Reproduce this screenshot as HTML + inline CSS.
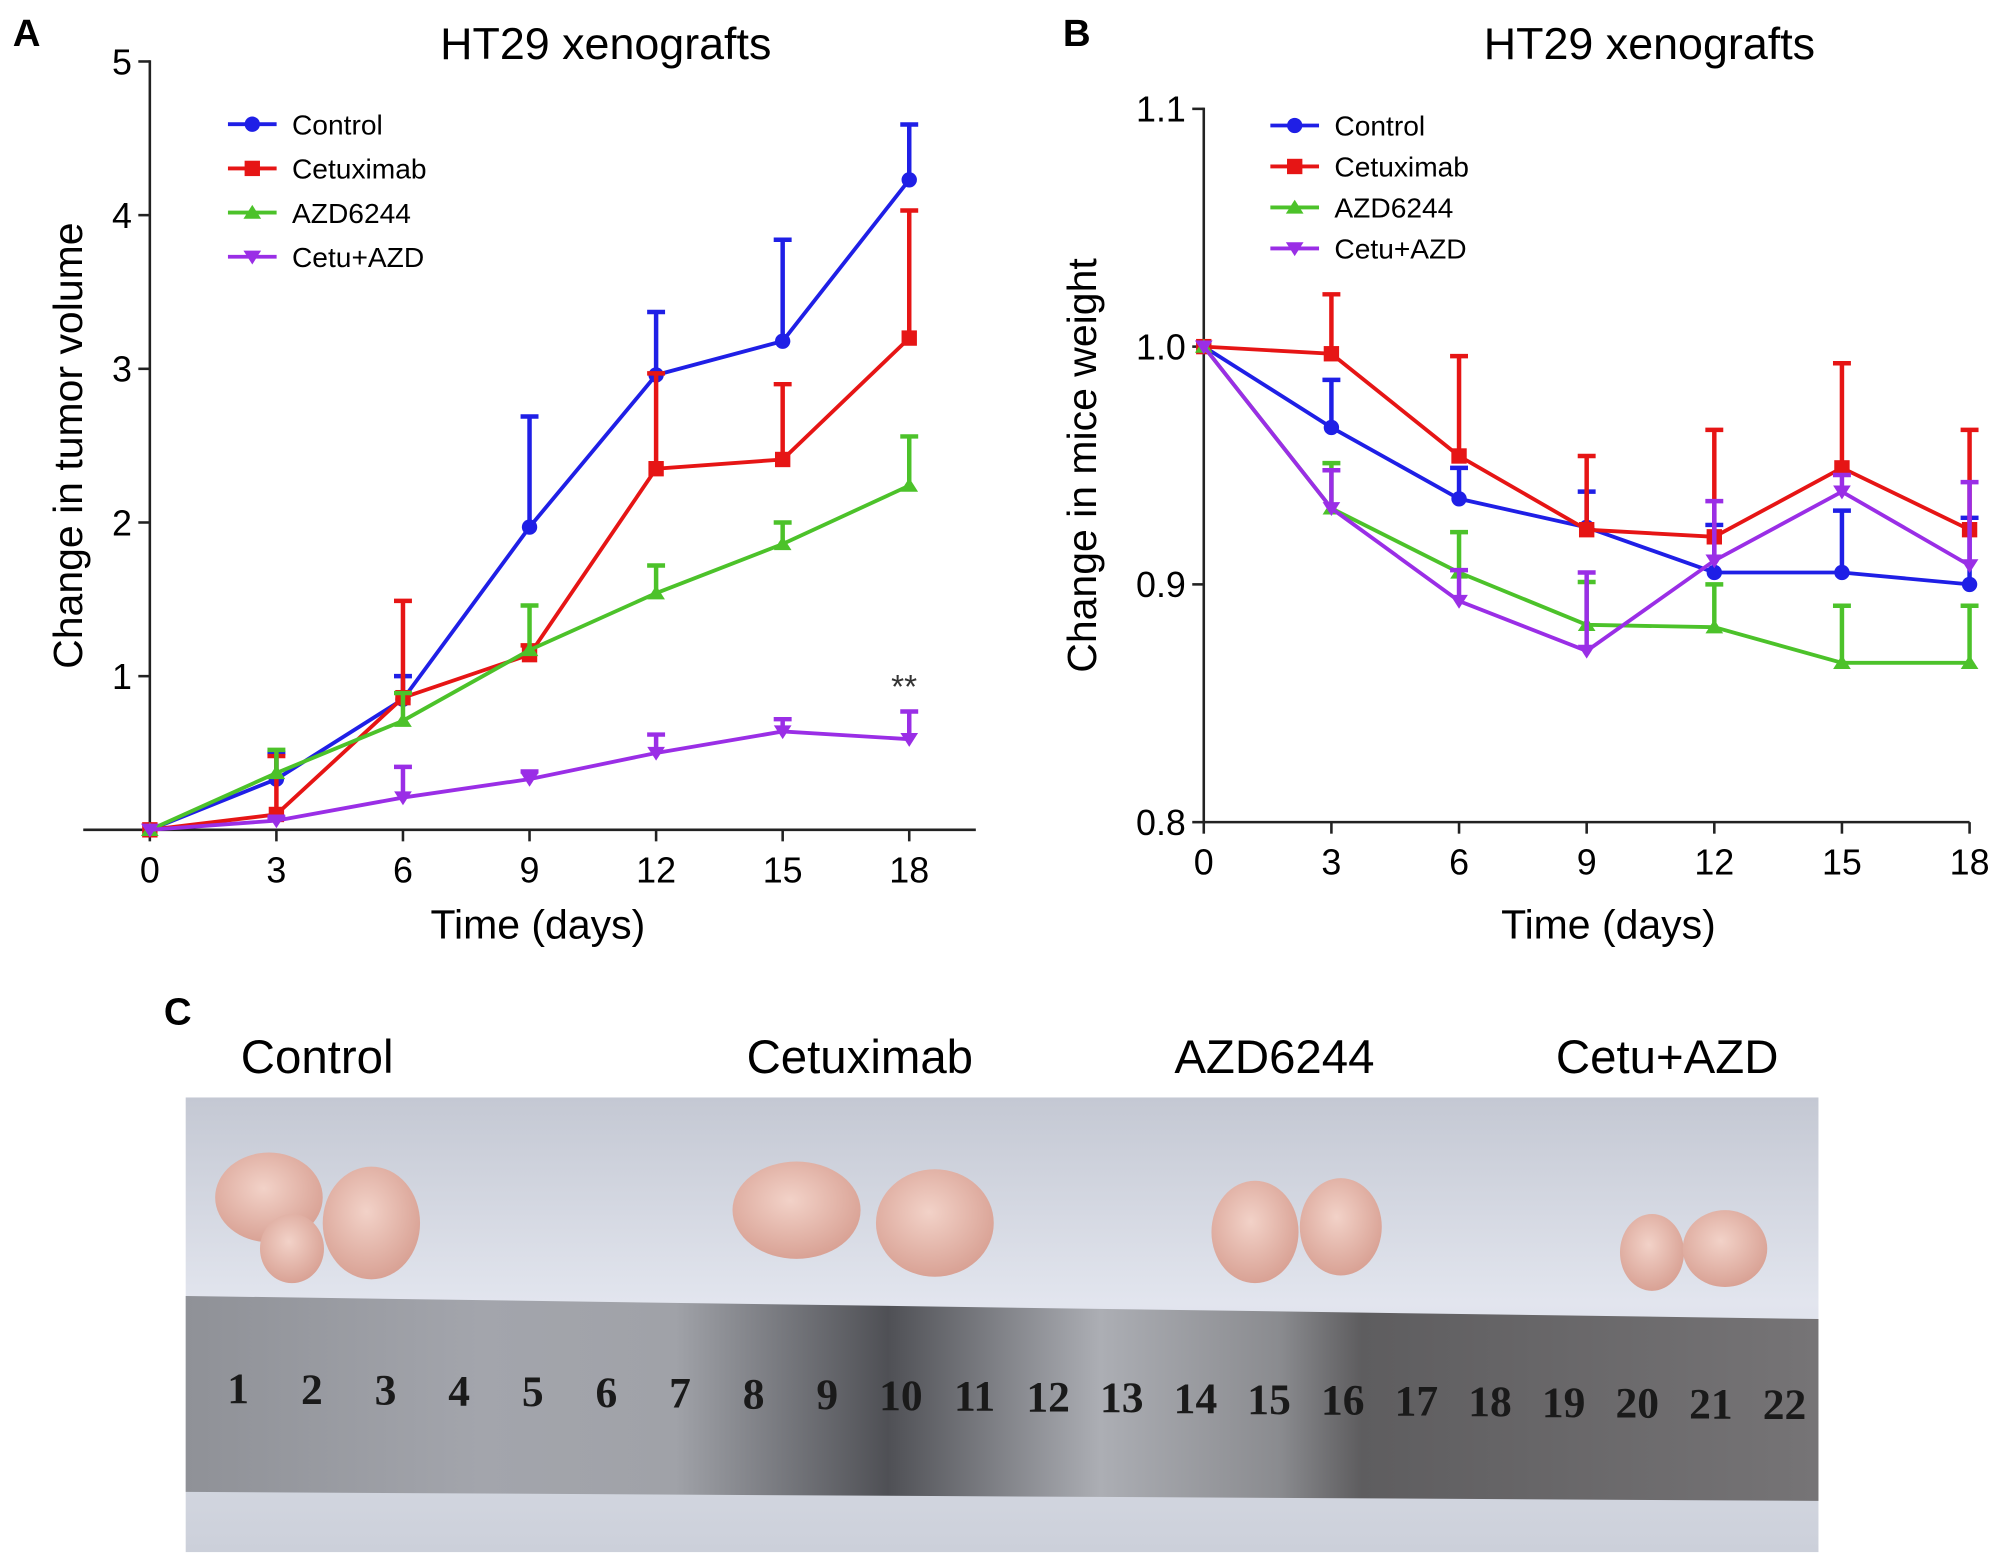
<!DOCTYPE html>
<html><head><meta charset="utf-8"><style>
html,body{margin:0;padding:0;background:#fff;}
svg{display:block;font-family:"Liberation Sans",sans-serif;}
</style></head><body>
<svg id="fig" width="2008" height="1564" viewBox="0 0 1568 1221.3" xmlns="http://www.w3.org/2000/svg">
<defs>
<linearGradient id="bg" x1="0" y1="0" x2="0" y2="1">
<stop offset="0" stop-color="#c4c8d3"/><stop offset="0.45" stop-color="#e2e5ee"/><stop offset="1" stop-color="#ccd0da"/></linearGradient>
<linearGradient id="rul" x1="0" y1="0" x2="1" y2="0">
<stop offset="0" stop-color="#8f9197"/><stop offset="0.18" stop-color="#a3a5ac"/><stop offset="0.3" stop-color="#a0a2a8"/><stop offset="0.43" stop-color="#4f5055"/><stop offset="0.56" stop-color="#acaeb4"/><stop offset="0.67" stop-color="#8a8b8f"/><stop offset="0.72" stop-color="#5e5d5f"/><stop offset="1" stop-color="#767476"/></linearGradient>
<radialGradient id="tum" cx="0.45" cy="0.4" r="0.6"><stop offset="0" stop-color="#f2d2c8"/><stop offset="1" stop-color="#d9a295"/></radialGradient>
</defs>
<g id="chartA"></g>
<g id="chartB"></g>
<g>
<text x="128" y="800" font-size="30" font-weight="bold">C</text>
<text x="188" y="838" font-size="37">Control</text>
<text x="583" y="838" font-size="37">Cetuximab</text>
<text x="917" y="838" font-size="37">AZD6244</text>
<text x="1215" y="838" font-size="37">Cetu+AZD</text>
<rect x="145" y="857" width="1275" height="355" fill="url(#bg)"/>
<path d="M145 1012 L1420 1030 L1420 1172 L145 1165 Z" fill="url(#rul)"/>
<g fill="url(#tum)">
<ellipse cx="210" cy="935" rx="42" ry="35"/><ellipse cx="228" cy="975" rx="25" ry="27"/><ellipse cx="290" cy="955" rx="38" ry="44"/>
<ellipse cx="622" cy="945" rx="50" ry="38"/><ellipse cx="730" cy="955" rx="46" ry="42"/>
<ellipse cx="980" cy="962" rx="34" ry="40"/><ellipse cx="1047" cy="958" rx="32" ry="38"/>
<ellipse cx="1290" cy="978" rx="25" ry="30"/><ellipse cx="1347" cy="975" rx="33" ry="30"/>
</g>
<g id="rulerNums" font-family="'Liberation Serif',serif" font-size="34" font-weight="bold" fill="#1a1a1a"></g>
</g>
</svg>
<script>
const days=[0,3,6,9,12,15,18];
const names=["Control","Cetuximab","AZD6244","Cetu+AZD"];
const colors=["#1f1fe6","#e61515","#4cc22a","#9a2ee6"];
const volControl=[0,0.33,0.85,1.97,2.96,3.18,4.23];
const volControlErr=[0,0.50,1.00,2.69,3.37,3.84,4.59];
const volCetux=[0,0.10,0.86,1.14,2.35,2.41,3.20];
const volCetuxErr=[0,0.48,1.49,1.20,2.97,2.90,4.03];
const volAzd=[0,0.37,0.71,1.17,1.54,1.86,2.24];
const volAzdErr=[0,0.52,0.89,1.46,1.72,2.00,2.56];
const volCombo=[0,0.06,0.21,0.33,0.50,0.64,0.59];
const volComboErr=[0,0.08,0.41,0.38,0.62,0.72,0.77];
const wtControl=[1.0,0.966,0.936,0.924,0.905,0.905,0.900];
const wtControlErr=[1.0,0.986,0.949,0.939,0.925,0.931,0.928];
const wtCetux=[1.0,0.997,0.954,0.923,0.920,0.949,0.923];
const wtCetuxErr=[1.0,1.022,0.996,0.954,0.965,0.993,0.965];
const wtAzd=[1.0,0.932,0.905,0.883,0.882,0.867,0.867];
const wtAzdErr=[1.0,0.951,0.922,0.901,0.900,0.891,0.891];
const wtCombo=[1.0,0.932,0.893,0.872,0.910,0.939,0.908];
const wtComboErr=[1.0,0.948,0.906,0.905,0.935,0.946,0.943];
const yTicksA=[1,2,3,4,5];
const yTicksB=[0.8,0.9,1.0,1.1];
const yTickLabelsB=["0.8","0.9","1.0","1.1"];
const NS="http://www.w3.org/2000/svg";
function mk(p,tag,a){const e=document.createElementNS(NS,tag);for(const k in a)e.setAttribute(k,a[k]);p.appendChild(e);return e;}
function marker(g,i,x,y,s){
 let e;
 if(i===0)e=mk(g,"circle",{cx:x,cy:y,r:s,fill:colors[i]});
 else if(i===1)e=mk(g,"rect",{x:x-s,y:y-s,width:2*s,height:2*s,fill:colors[i]});
 else if(i===2)e=mk(g,"polygon",{points:`${x},${y-s} ${x-s*1.15},${y+s*0.8} ${x+s*1.15},${y+s*0.8}`,fill:colors[i]});
 else e=mk(g,"polygon",{points:`${x},${y+s} ${x-s*1.15},${y-s*0.8} ${x+s*1.15},${y-s*0.8}`,fill:colors[i]});
 
 
}
function drawChart(cfg){
 const g=document.getElementById(cfg.id);
 const xs=d=>cfg.x0+(d-0)*(cfg.x1-cfg.x0)/18;
 const ys=v=>cfg.yb+(v-cfg.ymin)*(cfg.yt-cfg.yb)/(cfg.ymax-cfg.ymin);
 let t;
 t=mk(g,"text",{x:cfg.letterX,y:36,"font-size":30,"font-weight":"bold"});t.textContent=cfg.letter;
 
 t=mk(g,"text",{x:cfg.titleX,y:46,"font-size":35,"text-anchor":"middle"});t.textContent="HT29 xenografts";
 
 let ax=mk(g,"line",{x1:xs(0),y1:ys(cfg.ymax)-1,x2:xs(0),y2:ys(cfg.ymin),stroke:"#222","stroke-width":2});
 
 ax=mk(g,"line",{x1:cfg.xAxisStart,y1:ys(cfg.ymin),x2:cfg.xAxisEnd,y2:ys(cfg.ymin),stroke:"#222","stroke-width":2});
 
 cfg.yticks.forEach((v,k)=>{
  const tk=mk(g,"line",{x1:xs(0)-9,y1:ys(v),x2:xs(0),y2:ys(v),stroke:"#222","stroke-width":2});
  
  const lb=mk(g,"text",{x:xs(0)-14,y:ys(v)+10,"font-size":28,"text-anchor":"end"});lb.textContent=cfg.ylabels[k];
  
 });
 days.forEach(d=>{
  const tk=mk(g,"line",{x1:xs(d),y1:ys(cfg.ymin),x2:xs(d),y2:ys(cfg.ymin)+9,stroke:"#222","stroke-width":2});
  
  const lb=mk(g,"text",{x:xs(d),y:ys(cfg.ymin)+41,"font-size":28,"text-anchor":"middle"});lb.textContent=d;
  
 });
 t=mk(g,"text",{x:cfg.xlabX,y:733,"font-size":32,"text-anchor":"middle"});t.textContent="Time (days)";
 
 t=mk(g,"text",{x:0,y:0,"font-size":32,"text-anchor":"middle",transform:`translate(${cfg.ylabX},${(ys(cfg.ymin)+ys(cfg.ymax))/2}) rotate(-90)`});t.textContent=cfg.ylab;
 
 cfg.series.forEach((s,i)=>{
  const sg=mk(g,"g",{});
  
  
  s.err.forEach((e,k)=>{
   if(k===0)return;
   const l=mk(sg,"path",{d:`M${xs(days[k])} ${ys(s.v[k])} V${ys(e)} M${xs(days[k])-7} ${ys(e)} H${xs(days[k])+7}`,stroke:colors[i],"stroke-width":3.5,fill:"none"});
   
  });
  const pl=mk(sg,"polyline",{points:s.v.map((v,k)=>xs(days[k])+","+ys(v)).join(" "),stroke:colors[i],"stroke-width":3,fill:"none"});
  
  s.v.forEach((v,k)=>marker(sg,i,xs(days[k]),ys(v),6));
  const lg=mk(g,"g",{});
  
  const ly=cfg.legY+i*cfg.legDy;
  mk(lg,"line",{x1:cfg.legX,y1:ly,x2:cfg.legX+38,y2:ly,stroke:colors[i],"stroke-width":3});
  marker(lg,i,cfg.legX+19,ly,6);
  const lt=mk(lg,"text",{x:cfg.legX+50,y:ly+8,"font-size":22});lt.textContent=names[i];
 });
}
drawChart({id:"chartA",letter:"A",letterX:10,titleX:473,x0:117,x1:710,yb:648,yt:48,ymin:0,ymax:5,
 yticks:yTicksA,ylabels:yTicksA.map(String),xAxisStart:65,xAxisEnd:762,xlabX:420,ylabX:64,ylab:"Change in tumor volume",
 legX:178,legY:97,legDy:34.5,
 series:[{v:volControl,err:volControlErr},{v:volCetux,err:volCetuxErr},{v:volAzd,err:volAzdErr},{v:volCombo,err:volComboErr}]});
drawChart({id:"chartB",letter:"B",letterX:830,titleX:1288,x0:940,x1:1538,yb:642,yt:85,ymin:0.8,ymax:1.1,
 yticks:yTicksB,ylabels:yTickLabelsB,xAxisStart:940,xAxisEnd:1538,xlabX:1256,ylabX:856,ylab:"Change in mice weight",
 legX:992,legY:98,legDy:32,
 series:[{v:wtControl,err:wtControlErr},{v:wtCetux,err:wtCetuxErr},{v:wtAzd,err:wtAzdErr},{v:wtCombo,err:wtComboErr}]});
const sig=document.createElementNS(NS,"text");
sig.setAttribute("x",706);sig.setAttribute("y",545);sig.setAttribute("font-size",26);sig.setAttribute("text-anchor","middle");sig.setAttribute("fill","#333");
sig.textContent="**";


document.getElementById("chartA").appendChild(sig);
const rn=document.getElementById("rulerNums");
for(let n=1;n<=22;n++){
 const t=document.createElementNS(NS,"text");
 t.setAttribute("x",186+(n-1)*57.5);t.setAttribute("y",1095+n*0.6);t.setAttribute("text-anchor","middle");
 t.textContent=n;
 
 
 rn.appendChild(t);
}
</script>
</body></html>
